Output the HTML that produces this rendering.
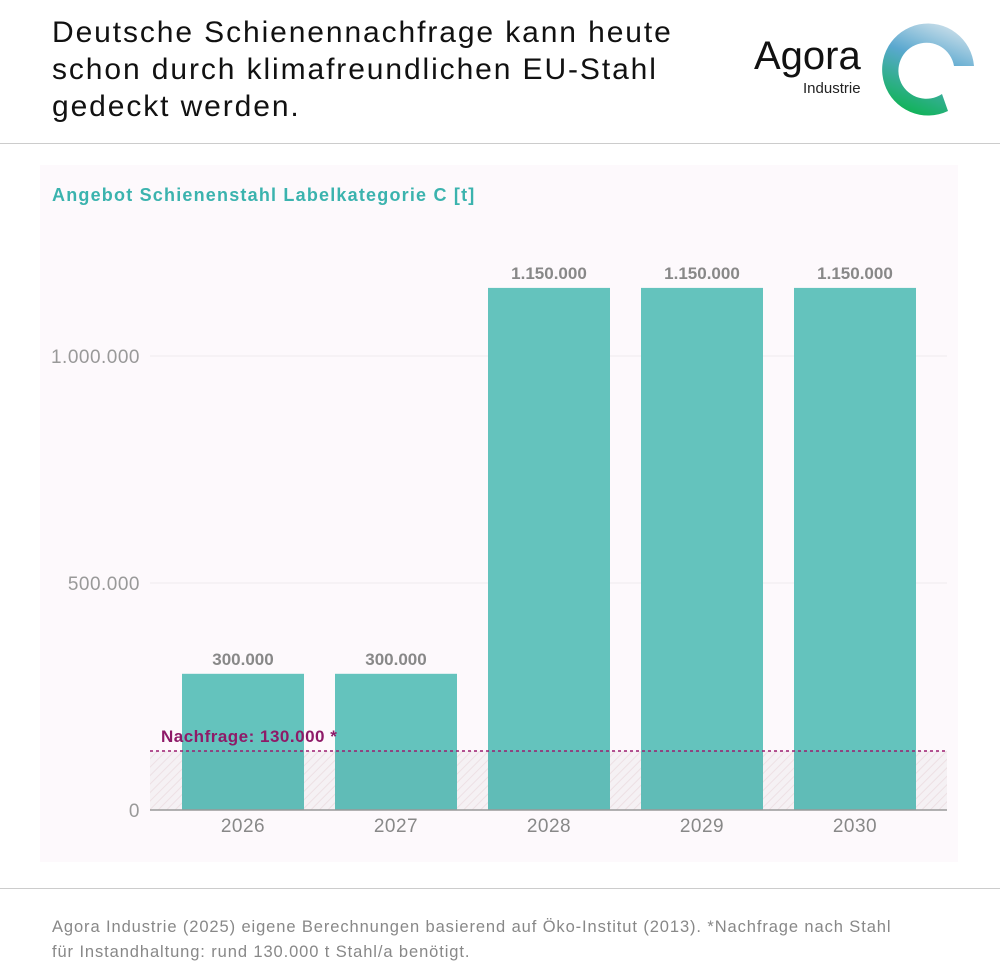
<!DOCTYPE html>
<html><head><meta charset="utf-8"><style>
body{margin:0;width:1000px;height:980px;background:#fff;font-family:"Liberation Sans",sans-serif;position:relative;overflow:hidden}
.t{position:absolute}
</style></head><body>
<div class="t" style="left:52px;top:14px;font-size:30px;line-height:37px;color:#111;letter-spacing:1.9px">Deutsche Schienennachfrage kann heute<br>schon durch klimafreundlichen EU-Stahl<br>gedeckt werden.</div>
<div class="t" style="left:754px;top:34px;font-size:40px;color:#111">Agora</div>
<div class="t" style="left:803px;top:80px;font-size:15px;color:#222">Industrie</div>
<svg class="t" style="left:880px;top:22px" width="98" height="96" viewBox="0 0 98 96">
<defs><linearGradient id="lg" x1="0.8" y1="0" x2="0.4" y2="1"><stop offset="0" stop-color="#d3e3ec"/><stop offset="0.45" stop-color="#5aa8cf"/><stop offset="1" stop-color="#12b35a"/></linearGradient></defs>
<path d="M94 44 A46 46 0 1 0 68 89 L62 72 A28 28 0 1 1 74 44 Z" fill="url(#lg)"/></svg>
<div class="t" style="left:0;top:143px;width:1000px;height:1px;background:#ccc"></div>
<div class="t" style="left:40px;top:165px;width:918px;height:697px;background:#fdf9fc"></div>
<div class="t" style="left:52px;top:185px;font-size:18px;font-weight:bold;color:#3bb3ae;letter-spacing:1.2px">Angebot Schienenstahl Labelkategorie C [t]</div>
<svg id="ch" class="t" style="left:0;top:0" width="1000" height="980">
<defs><pattern id="hatch" width="6" height="6" patternUnits="userSpaceOnUse" patternTransform="rotate(45)"><rect width="6" height="6" fill="#fdf9fc"/><line x1="0" y1="0" x2="0" y2="6" stroke="#f5e8ec" stroke-width="2"/></pattern></defs>
</svg>
<div class="t" style="left:0;top:888px;width:1000px;height:1px;background:#ccc"></div>
<div class="t" style="left:52px;top:915px;font-size:16.5px;line-height:25px;color:#888;letter-spacing:0.9px">Agora Industrie (2025) eigene Berechnungen basierend auf Öko-Institut (2013). *Nachfrage nach Stahl<br>für Instandhaltung: rund 130.000 t Stahl/a benötigt.</div>
<script>
const categories=["2026","2027","2028","2029","2030"];
const values=[300000,300000,1150000,1150000,1150000];
const demand=[130000];
const yTicks=[0,500000,1000000];
const yTickLabels=["0","500.000","1.000.000"];
const valueLabels=["300.000","300.000","1.150.000","1.150.000","1.150.000"];
const NS="http://www.w3.org/2000/svg",svg=document.getElementById('ch');
const y=v=>810-v*454/1000000;
const x=i=>166.5+i*153;
function mk(t,a){const e=document.createElementNS(NS,t);for(const k in a)e.setAttribute(k,a[k]);svg.appendChild(e);return e;}
yTicks.forEach((t,i)=>{
 if(t>0){const g=mk('line',{x1:150,x2:947,y1:y(t),y2:y(t),stroke:'#eeeaee'});
 
 }
 const l=mk('text',{x:140,y:y(t)+7,'text-anchor':'end','font-size':19,fill:'#999','font-family':'Liberation Sans','letter-spacing':0.5});l.textContent=yTickLabels[i];
 
 
});
const h=mk('rect',{x:150,y:y(demand[0]),width:797,height:810-y(demand[0]),fill:'url(#hatch)'});


values.forEach((v,i)=>{
 const b=mk('rect',{x:x(i)+15.5,y:y(v),width:122,height:810-y(v),fill:'#64c3bd'});
 
 
 const vl=mk('text',{x:x(i)+76.5,y:y(v)-9,'text-anchor':'middle','font-size':17,'font-weight':'bold',fill:'#888','font-family':'Liberation Sans'});vl.textContent=valueLabels[i];
 
 
 const cl=mk('text',{x:x(i)+76.5,y:832,'text-anchor':'middle','font-size':19,fill:'#888','font-family':'Liberation Sans','letter-spacing':0.5});cl.textContent=categories[i];
 
 
});
const ov=mk('rect',{x:150,y:y(demand[0]),width:797,height:810-y(demand[0]),fill:'#000',opacity:0.03});


const dl=mk('line',{x1:150,x2:947,y1:y(demand[0]),y2:y(demand[0]),stroke:'#9b1c6e','stroke-width':1.5,'stroke-dasharray':'3 3'});


const dt=mk('text',{x:161,y:y(demand[0])-9,'font-size':17,'font-weight':'bold',fill:'#8e1a68','font-family':'Liberation Sans','letter-spacing':0.5});dt.textContent='Nachfrage: 130.000 *';


const ax=mk('line',{x1:150,x2:947,y1:810,y2:810,stroke:'#999','stroke-width':1.5});


</script>
</body></html>
